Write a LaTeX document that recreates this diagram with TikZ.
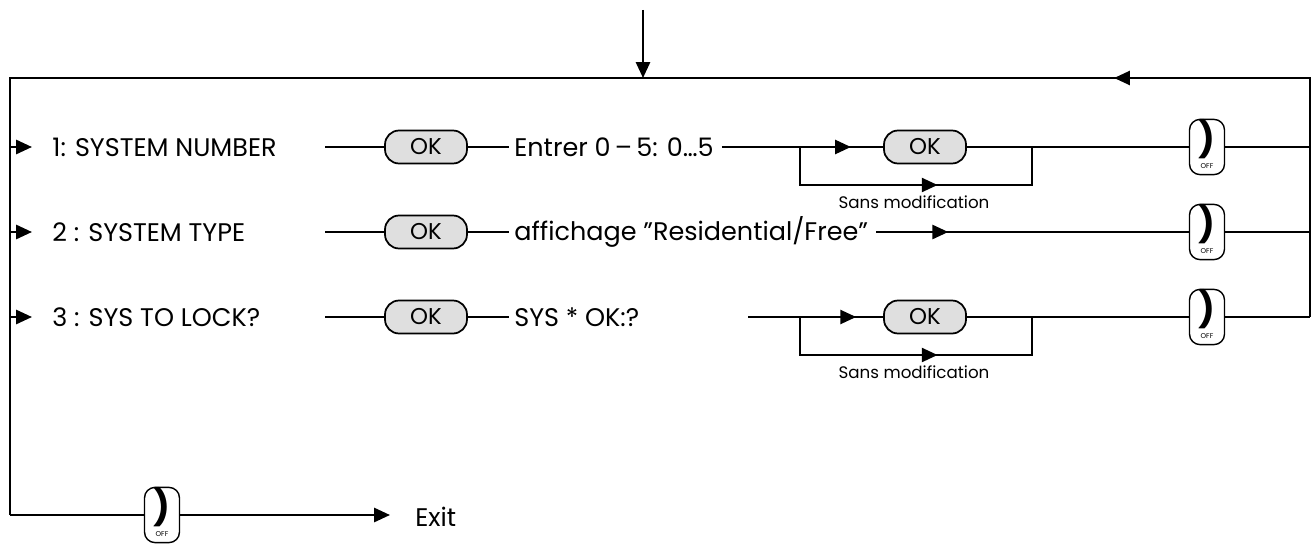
\documentclass[tikz,border=0pt]{standalone}
\usepackage{fontspec}
\setmainfont{Poppins}
\usetikzlibrary{arrows.meta,decorations.markings}
\begin{document}
\begin{tikzpicture}[x=0.02cm,y=-0.02cm,
  ln/.style={line width=1.3pt},
  mid/.style={postaction={decorate},decoration={markings,mark=at position #1 with {\arrow{Triangle[length=9pt,width=8pt]}}}},
  ok/.style={draw,line width=1pt,fill=gray!25,rounded corners=8pt,minimum width=1.64cm,minimum height=0.66cm,font=\fontsize{13}{13}\selectfont,inner sep=0pt},
  phone/.style={draw,line width=0.8pt,rounded corners=6pt,minimum width=0.7cm,minimum height=1.04cm,inner sep=0pt,fill=white},
  lbl/.style={anchor=west,font=\fontsize{14.5}{17}\selectfont,inner sep=0pt},
  small/.style={font=\fontsize{9.5}{11}\selectfont,inner sep=0pt}]
\useasboundingbox (0,0) rectangle (1315,554);
\newcommand\phoneicon{\begin{tabular}{@{}c@{}}\fontsize{20}{18}\selectfont\bfseries )\\[-3pt]\fontsize{4}{4}\selectfont OFF\end{tabular}}
% frame
\coordinate (tt) at (643,10);
\coordinate (tl) at (10,78); \coordinate (tr) at (1310,78);
\coordinate (tm) at (643,78);
\coordinate (bl) at (10,515);
\draw[ln,-{Triangle[length=9pt,width=8pt]}] (tt) -- (tm);
\draw[ln] (bl) -- (tl) -- (tm);
\draw[ln,mid=0.48] (1310,317) -- (tr) -- (tm);
% rows
\foreach \y/\n in {147/1,232/2,317/3}{
  \coordinate (l\n) at (10,\y);
  \coordinate (a\n) at (32,\y);
  \draw[ln,-{Triangle[length=9pt,width=8pt]}] (l\n) -- (a\n);
  \node[ok] (ok\n) at (426,\y) {OK};
  \coordinate (s\n) at (325,\y);
  \draw[ln] (s\n) -- (ok\n.west);
  \node[phone] (ph\n) at (1207,\y) {\phoneicon};
  \coordinate (r\n) at (1310,\y);
  \draw[ln] (ph\n.east) -- (r\n);
}
\node[lbl] (t1) at (52,147) {1: SYSTEM NUMBER};
\node[lbl] (t2) at (52,232) {2 : SYSTEM TYPE};
\node[lbl] (t3) at (52,317) {3 : SYS TO LOCK?};
\node[lbl] (e1) at (514,147) {Entrer 0\,–\,5: 0\ldots5};
\node[lbl] (e2) at (514,232) {affichage ”Residential/Free”};
\node[lbl] (e3) at (514,317) {SYS * OK:?};
\draw[ln] (ok1.east) -- ([xshift=-0.1cm]e1.west);
\draw[ln] (ok2.east) -- ([xshift=-0.1cm]e2.west);
\draw[ln] (ok3.east) -- ([xshift=-0.1cm]e3.west);
% row 2 line
\draw[ln,mid=0.23] ([xshift=0.16cm]e2.east) -- (ph2.west);
% rows 1 and 3 with bypass
\node[ok] (okb1) at (925,147) {OK};
\node[ok] (okb3) at (925,317) {OK};
\draw[ln,mid=0.8] ([xshift=0.16cm]e1.east) -- (okb1.west);
\coordinate (st3) at (748,317);
\draw[ln,mid=0.8] (st3) -- (okb3.west);
\foreach \y/\n in {147/1,317/3}{
  \draw[ln] (okb\n.east) -- (ph\n.west);
  \coordinate (bA\n) at (800,\y); \coordinate (bB\n) at (800,\y+38);
  \coordinate (bC\n) at (1032,\y+38); \coordinate (bD\n) at (1032,\y);
  \draw[ln,mid=0.57] (bA\n) -- (bB\n) -- (bC\n) -- (bD\n);
  \node[small] (sm\n) at (914,\y+55) {Sans modification};
}
% exit
\node[phone] (ph4) at (162,515) {\phoneicon};
\draw[ln] (bl) -- (ph4.west);
\node[lbl] (ex) at (415,517) {Exit};
\coordinate (ea) at (390,515);
\draw[ln,-{Triangle[length=9pt,width=8pt]}] (ph4.east) -- (ea);
\end{tikzpicture}
\end{document}
